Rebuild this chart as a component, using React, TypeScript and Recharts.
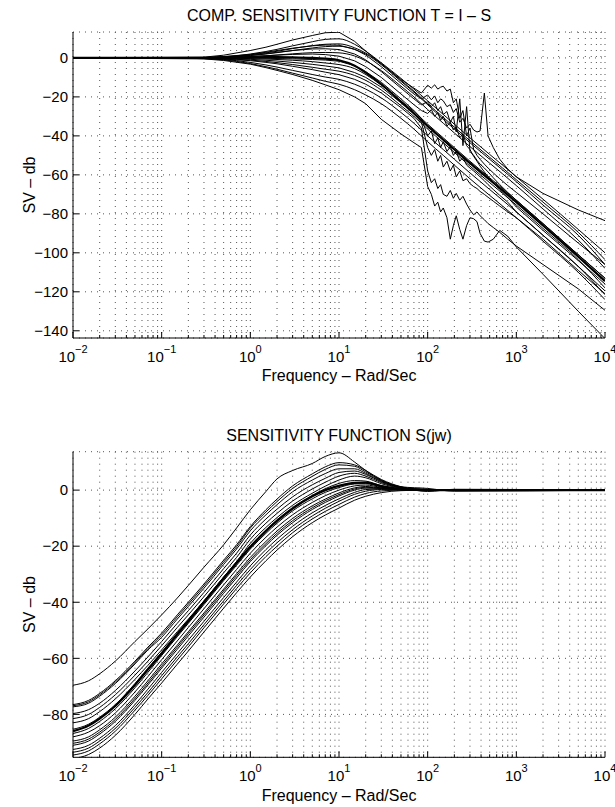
import React from 'react';
import { LineChart, Line, XAxis, YAxis, CartesianGrid } from 'recharts';

const FONT = '"Liberation Sans", Arial, Helvetica, sans-serif';

// ---------- axis ticks / labels ----------
const freqTicks = [
  0.01, 0.02, 0.03, 0.04, 0.05, 0.06, 0.07, 0.08, 0.09,
  0.1, 0.2, 0.3, 0.4, 0.5, 0.6, 0.7, 0.8, 0.9,
  1, 2, 3, 4, 5, 6, 7, 8, 9,
  10, 20, 30, 40, 50, 60, 70, 80, 90,
  100, 200, 300, 400, 500, 600, 700, 800, 900,
  1000, 2000, 3000, 4000, 5000, 6000, 7000, 8000, 9000,
  10000,
];
const freqDomain = [0.01, 10000];
const tYTicks = [-140, -120, -100, -80, -60, -40, -20, 0];
const tYDomain = [-143.7, 13.3];
const sYTicks = [-80, -60, -40, -20, 0];
const sYDomain = [-95.3, 13.7];

const titleT = 'COMP. SENSITIVITY FUNCTION T = I \u2013 S';
const titleS = 'SENSITIVITY FUNCTION S(jw)';
const xLabel = 'Frequency \u2013 Rad/Sec';
const yLabel = 'SV \u2013 db';

// ---------- T = I - S : smooth curves ----------
const freqT = [0.01, 0.1, 0.2, 0.3, 0.5, 0.7, 1, 1.5, 2, 3, 5, 7, 10, 15, 20, 30, 50, 70, 100, 150, 200, 300, 500, 700, 1000, 2000, 5000, 10000];
const tS1 = [0, 0, 0.05, 0.2, 0.6, 1.1, 2, 3.3, 4.4, 6.2, 8.3, 9.5, 9.8, 7, 3.5, -2.5, -10.5, -16, -22, -29, -34, -41, -49.5, -55, -61, -72.5, -88, -100];
const tS2 = [0, 0, 0.05, 0.15, 0.5, 0.9, 1.6, 2.6, 3.4, 4.8, 6.3, 7, 7.2, 5.2, 2.5, -3, -11.5, -17, -23.5, -30.5, -35.5, -42.5, -51, -56.5, -62.5, -74, -89.5, -103.5];
const tS3 = [0, 0, 0.03, 0.1, 0.35, 0.7, 1.2, 2, 2.7, 3.8, 5.1, 5.8, 6, 4.3, 2, -3.5, -12, -17.5, -24, -31.5, -36.5, -43.5, -52, -57.5, -63.5, -75.5, -91, -106];
const tS4 = [0, 0, 0, 0.05, 0.2, 0.4, 0.7, 1.1, 1.5, 2.1, 2.7, 2.8, 2.6, 1, -1.5, -6.5, -14.5, -20, -26.5, -33.5, -38.5, -45.5, -54, -59.5, -65.5, -77.5, -93.5, -108];
const tS5 = [0, 0, 0, 0.05, 0.1, 0.2, 0.3, 0.4, 0.4, 0.3, 0, -0.4, -1.2, -4, -7.5, -13.5, -22.5, -28.5, -35, -42, -47, -54, -62.5, -68, -74, -86, -102, -114.5];
const tS6 = [0, 0, 0, -0.05, -0.1, -0.2, -0.35, -0.6, -0.8, -1.2, -1.9, -2.6, -3.4, -5.5, -8.5, -14, -22, -27.5, -34, -41, -46, -53, -61.5, -67, -73, -85, -101, -113];
const tS7 = [0, 0, -0.05, -0.15, -0.4, -0.7, -1.1, -1.8, -2.4, -3.4, -4.8, -5.8, -6.8, -9, -11.5, -16.5, -24.5, -30, -36.5, -43.5, -48.5, -55.5, -64, -69.5, -75.5, -87.5, -103.5, -118];
const tS8 = [0, 0, -0.1, -0.3, -0.8, -1.4, -2.3, -3.6, -4.7, -6.4, -8.5, -9.8, -11, -13.5, -16, -20.5, -28, -33.5, -40, -47, -52, -59, -67.5, -73, -79, -91, -107, -121.5];
const tS9 = [0, 0, -0.2, -0.4, -1, -1.8, -2.9, -4.5, -5.8, -7.8, -10.3, -12, -13.5, -16.3, -19, -23.5, -31, -36.5, -43, -50, -55, -62, -70.5, -76, -82, -94, -110, -124];

// ---------- T = I - S : jagged curves ----------
const freqW = [0.01, 0.3, 0.5, 1, 1.5, 2, 3, 5, 7, 10, 15, 20, 30, 50, 70, 85, 100, 110, 120, 130, 140, 150, 165, 180, 195, 210, 230, 250, 275, 300, 330, 360, 390, 436, 480, 550, 650, 800, 1000, 2000, 5000, 10000];
const tW0 = [0, 0.4, 1.4, 3.8, 5.5, 7, 9.2, 11.5, 12.9, 13.2, 8.5, 3.5, -3, -11, -15.5, -18, -14, -15.5, -13.8, -16, -15, -14.5, -17, -16, -23, -21, -31, -27, -40, -36, -47, -50, -52, -54.5, -56.5, -59, -62, -65.5, -69, -80, -95, -106];
const tW1 = [0, 0.2, 0.7, 1.8, 2.9, 3.8, 5, 6.2, 6.6, 6.5, 4.5, 1.5, -4.5, -13, -18.5, -21, -19, -21.5, -19.5, -23, -21, -22, -25, -24, -28, -26, -33, -31, -36, -34, -37, -38, -37.5, -18, -40, -46, -52, -57, -61, -69.5, -78, -83.5];
const tW2 = [0, 0.1, 0.5, 1.3, 2.2, 2.9, 3.8, 4.6, 4.7, 4.3, 2, -1, -7, -15.5, -21, -24, -22.5, -25, -23, -27, -25, -29, -27.5, -33, -30, -38, -21, -45, -25, -48, -50, -52.5, -54.5, -56.5, -58.5, -61.5, -65, -69, -73, -85, -101, -113];
const tW3 = [0, 0.1, 0.3, 0.7, 1.1, 1.4, 1.8, 2, 1.7, 0.9, -1.5, -4.5, -10, -18.5, -24, -27, -28.5, -26.5, -30, -28, -32, -30, -35, -33, -37, -35.5, -41, -39, -45, -47, -50.5, -53, -55.5, -58.5, -61, -64, -67.5, -71.5, -76.5, -88.5, -104, -116];
const tW4 = [0, 0, 0, -0.1, -0.2, -0.3, -0.5, -0.8, -1.1, -1.7, -4, -7, -12.5, -21, -27, -31, -40, -37.5, -44, -41, -46, -43, -48, -45.5, -50, -48, -53, -51, -55, -56.5, -58, -59.5, -61, -63, -65, -67.5, -70.5, -74, -79, -91, -107, -119.5];
const tW5 = [0, -0.1, -0.3, -0.7, -1.2, -1.6, -2.3, -3.3, -4.1, -5.1, -7.5, -10, -15, -23, -28.5, -33, -46, -50, -47, -53, -50, -56, -53, -58, -55, -61, -58, -63, -62, -64.5, -66, -67, -68.5, -70, -71.5, -73.5, -76, -79, -82, -93, -109, -121];
const tW6 = [0, -0.2, -0.6, -1.4, -2.3, -3, -4.3, -6, -7.3, -8.6, -11, -13.5, -18, -25.5, -31, -36, -58, -64, -62, -67, -65, -70, -71, -68, -72, -69.5, -73, -71, -75, -78, -80.5, -79, -81, -83, -85, -87, -89.5, -93, -96.5, -106, -118.5, -129.5];
const tW7 = [0, -0.5, -1.3, -3.2, -5, -6.4, -8.5, -11.5, -13.8, -16.3, -20, -23.5, -31.5, -39, -43.5, -46, -66, -70, -76, -74, -79, -77, -82, -93, -86, -81, -88, -93, -86, -82, -82.5, -84, -90, -94, -94.5, -93, -88.5, -91.5, -97, -111, -130, -144];

// ---------- S(jw) curves ----------
const freqS = [0.01, 0.015, 0.02, 0.03, 0.05, 0.07, 0.1, 0.15, 0.2, 0.3, 0.5, 0.7, 1, 1.5, 2, 3, 5, 7, 10, 15, 20, 30, 50, 100, 200, 10000];
const s00 = [-69.6, -68, -65.5, -61, -54, -49.5, -44.5, -38.5, -34, -27.5, -19.5, -13.5, -7, -0.5, 4, 7, 9.5, 12, 13.3, 10, 7, 3.5, 1.2, 0.6, -0.4, 0];
const s01 = [-76.5, -75, -72.5, -68, -61, -56, -51, -44.5, -40, -33.5, -25, -19.5, -13, -7, -3.2, 1.5, 5.8, 8.3, 9.8, 9, 7, 3.8, 1.2, -0.5, 0.3, 0];
const s02 = [-76.9, -75.5, -73, -68.5, -61.5, -56.5, -51.7, -45.2, -40.7, -34.2, -25.7, -20.2, -13.5, -7.8, -4.1, 0.6, 4.9, 7.4, 9, 8.5, 6.5, 3.5, 1.1, 0.2, 0, 0];
const s03 = [-77.3, -76, -73.5, -69, -62, -57, -52.5, -46, -41.5, -35, -26.5, -21, -14.5, -8.8, -5.2, -0.6, 3.6, 5.9, 7.6, 7.6, 6, 3.2, 1, 0.2, 0, 0];
const s04 = [-79.7, -78.3, -76, -71.5, -64.5, -59.5, -54, -47.5, -43, -36.5, -28, -22.5, -16, -10.3, -6.8, -2.4, 1.9, 4.2, 6.3, 6.8, 5.6, 3, 0.9, 0.2, 0, 0];
const s05 = [-81.5, -80, -77.5, -73, -66, -61, -55.5, -49, -44.5, -38, -29.5, -24, -17.5, -11.8, -8.3, -3.9, 0.4, 2.8, 5, 6, 5, 2.7, 0.8, 0.1, 0, 0];
const s06 = [-83, -81.5, -79, -74.5, -67.5, -62.5, -57, -50.5, -46, -39.5, -31, -25.5, -19, -13.3, -9.8, -5.4, -1.1, 1.4, 3.6, 5, 4.4, 2.3, 0.7, 0.1, 0, 0];
const s07 = [-85.3, -83.5, -81, -76.5, -69, -63.5, -57.8, -51, -46.3, -39.5, -31, -25.5, -19.8, -14.2, -10.6, -6.2, -1.9, 0.5, 2.4, 3.4, 3.2, 1.6, 0.4, 0, 0, 0];
const s08 = [-86, -84, -81.5, -77, -69.5, -64, -58.3, -51.5, -46.8, -40, -31.5, -26, -20.3, -14.6, -11, -6.6, -2.2, 0, 1.5, 2.6, 2.7, 1.4, 0.4, 0, 0, 0];
const s09 = [-86.8, -85, -82.5, -78, -70.5, -65, -59, -52.3, -47.5, -40.8, -32.3, -26.8, -21, -15.4, -11.8, -7.4, -3.1, -0.8, 0.9, 2.2, 2.3, 1.2, 0.3, 0, 0, 0];
const s10 = [-88, -86.3, -84, -79.5, -72, -66.5, -60.5, -53.8, -49, -42.3, -33.8, -28.3, -22.5, -16.8, -13.2, -8.8, -4.4, -2, 0, 1.5, 1.8, 1, 0.3, 0, 0, 0];
const s11 = [-89.5, -88, -85.5, -81, -73.5, -68, -62, -55.3, -50.5, -43.8, -35.3, -29.8, -24, -18.3, -14.6, -10.1, -5.6, -3.2, -1, 0.8, 1.3, 0.8, 0.2, 0, 0, 0];
const s12 = [-90.3, -88.8, -86.3, -81.8, -74.3, -68.8, -62.8, -56, -51.2, -44.5, -36, -30.5, -24.8, -19.1, -15.4, -10.9, -6.3, -3.8, -1.6, 0.4, 1, 0.7, 0.2, 0, 0, 0];
const s13 = [-91, -89.5, -87, -82.5, -75, -69.5, -63.5, -56.8, -52, -45.3, -36.8, -31.3, -25.5, -19.8, -16.1, -11.6, -6.9, -4.4, -2.1, 0, 0.7, 0.6, 0.2, 0, 0, 0];
const s14 = [-92.5, -91, -88.5, -84, -76.5, -71, -65, -58.3, -53.5, -46.8, -38.3, -32.8, -27, -21.2, -17.5, -12.9, -8.1, -5.5, -3.1, -0.8, 0.2, 0.4, 0.1, 0, 0, 0];
const s15 = [-93.5, -92, -89.5, -85, -77.5, -72.2, -66.2, -59.5, -54.8, -48, -39.5, -34, -28.3, -22.5, -18.8, -14.1, -9.2, -6.5, -4, -1.5, -0.4, 0.2, 0.1, 0, 0, 0];
const s16 = [-94.5, -93, -90.5, -86, -78.5, -73.2, -67.3, -60.6, -55.9, -49.1, -40.6, -35.1, -29.5, -23.7, -20, -15.2, -10.3, -7.6, -5.1, -2.5, -1.2, -0.3, 0, 0, 0, 0];
const s17 = [-95.8, -94.3, -92, -87.5, -80, -74.5, -68.8, -62.1, -57.4, -50.6, -42.1, -36.6, -31, -25.2, -21.4, -16.6, -11.6, -8.9, -6.4, -3.6, -2.2, -0.9, -0.2, 0, 0, 0];

type Curve = { id: string; pts: { f: number; v: number }[]; type: 'linear' | 'monotone'; w: number };
const toPts = (fs: number[], vs: number[]) => fs.map((f, i) => ({ f, v: vs[i] }));

const tCurves: Curve[] = [
  ...[tS1, tS2, tS3, tS4, tS6, tS7, tS8, tS9].map((vs, i) => ({ id: 'ts' + i, pts: toPts(freqT, vs), type: 'monotone' as const, w: 1 })),
  { id: 'tthick', pts: toPts(freqT, tS5), type: 'monotone', w: 2.2 },
  ...[tW0, tW1, tW2, tW3, tW4, tW5, tW6, tW7].map((vs, i) => ({ id: 'tw' + i, pts: toPts(freqW, vs), type: 'linear' as const, w: 1 })),
];

const sCurves: Curve[] = [s00, s01, s02, s03, s04, s05, s06, s07, s08, s09, s10, s11, s12, s13, s14, s15, s16, s17].map((vs, i) => ({
  id: 's' + i,
  pts: toPts(freqS, vs),
  type: 'monotone',
  w: i === 8 ? 2.2 : 1,
}));

// ---------- tick renderers ----------
const isDecade = (v: number) => {
  const l = Math.log10(v);
  return Math.abs(l - Math.round(l)) < 1e-6;
};
const fmtExp = (v: number) => {
  const e = Math.round(Math.log10(v));
  return e < 0 ? '\u2212' + Math.abs(e) : String(e);
};
const fmtNum = (v: number) => (v < 0 ? '\u2212' + Math.abs(v) : String(v));

function BottomTick(props: any) {
  const { x, y, payload } = props;
  const v = payload.value;
  const major = isDecade(v);
  return (
    <g>
      <line x1={x} x2={x} y1={y} y2={y - (major ? 6 : 3)} stroke="#000" strokeWidth={1} />
      {major ? (
        <text x={x} y={y + 24} textAnchor="middle" fontFamily={FONT} fontSize={15} fill="#000">
          <tspan>10</tspan>
          <tspan dy={-9} fontSize={11}>{fmtExp(v)}</tspan>
        </text>
      ) : null}
    </g>
  );
}
function TopTick(props: any) {
  const { x, y, payload } = props;
  const major = isDecade(payload.value);
  return <line x1={x} x2={x} y1={y} y2={y + (major ? 6 : 3)} stroke="#000" strokeWidth={1} />;
}
function LeftTick(props: any) {
  const { x, y, payload } = props;
  return (
    <g>
      <line x1={x} x2={x + 6} y1={y} y2={y} stroke="#000" strokeWidth={1} />
      <text x={x - 5} y={y} dy="0.35em" textAnchor="end" fontFamily={FONT} fontSize={15} fill="#000">
        {fmtNum(payload.value)}
      </text>
    </g>
  );
}
function RightTick(props: any) {
  const { x, y } = props;
  return <line x1={x} x2={x - 6} y1={y} y2={y} stroke="#000" strokeWidth={1} />;
}

function Panel(props: { curves: Curve[]; yDomain: number[]; yTicks: number[]; height: number; margin: any }) {
  const { curves, yDomain, yTicks, height, margin } = props;
  return (
    <LineChart width={615} height={height} margin={margin}>
      <CartesianGrid stroke="#555" strokeDasharray="1 5" xAxisId={0} yAxisId={0} />
      <XAxis
        xAxisId={0}
        dataKey="f"
        type="number"
        scale="log"
        domain={freqDomain}
        allowDataOverflow
        ticks={freqTicks}
        interval={0}
        tickSize={0}
        tickMargin={0}
        tickLine={false}
        tick={<BottomTick />}
        axisLine={{ stroke: '#000', strokeWidth: 1 }}
        height={40}
      />
      <XAxis
        xAxisId="top"
        orientation="top"
        dataKey="f"
        type="number"
        scale="log"
        domain={freqDomain}
        allowDataOverflow
        ticks={freqTicks}
        interval={0}
        tickSize={0}
        tickMargin={0}
        tickLine={false}
        tick={<TopTick />}
        axisLine={{ stroke: '#000', strokeWidth: 1 }}
        height={0}
      />
      <YAxis
        yAxisId={0}
        type="number"
        domain={yDomain}
        allowDataOverflow
        ticks={yTicks}
        interval={0}
        tickSize={0}
        tickMargin={0}
        tickLine={false}
        tick={<LeftTick />}
        axisLine={{ stroke: '#000', strokeWidth: 1 }}
        width={60}
      />
      <YAxis
        yAxisId="right"
        orientation="right"
        type="number"
        domain={yDomain}
        allowDataOverflow
        ticks={yTicks}
        interval={0}
        tickSize={0}
        tickMargin={0}
        tickLine={false}
        tick={<RightTick />}
        axisLine={{ stroke: '#000', strokeWidth: 1 }}
        width={0}
      />
      {curves.map((c) => (
        <Line
          key={c.id}
          name={c.id}
          xAxisId={0}
          yAxisId={0}
          data={c.pts}
          dataKey="v"
          type={c.type}
          dot={false}
          activeDot={false}
          stroke="#000"
          strokeWidth={c.w}
          isAnimationActive={false}
        />
      ))}
    </LineChart>
  );
}

export default function App() {
  return (
    <div style={{ position: 'absolute', left: 0, top: 0, width: 615, height: 807, background: '#fff' }}>
      <div style={{ position: 'absolute', left: 0, top: 0 }}>
        <Panel curves={tCurves} yDomain={tYDomain} yTicks={tYTicks} height={400} margin={{ top: 32, right: 10, bottom: 22, left: 13 }} />
      </div>
      <div style={{ position: 'absolute', left: 0, top: 420 }}>
        <Panel curves={sCurves} yDomain={sYDomain} yTicks={sYTicks} height={387} margin={{ top: 31.7, right: 10, bottom: 9.7, left: 13 }} />
      </div>
      <svg width={615} height={807} style={{ position: 'absolute', left: 0, top: 0, pointerEvents: 'none' }}>
        <g fontFamily={FONT} fill="#000">
          <text x={339} y={21} textAnchor="middle" fontSize={16}>{titleT}</text>
          <text x={339} y={381} textAnchor="middle" fontSize={16}>{xLabel}</text>
          <text transform="translate(29,185) rotate(-90)" textAnchor="middle" dy="0.35em" fontSize={16}>{yLabel}</text>
          <text x={339} y={441} textAnchor="middle" fontSize={16}>{titleS}</text>
          <text x={339} y={800.5} textAnchor="middle" fontSize={16}>{xLabel}</text>
          <text transform="translate(29,604.5) rotate(-90)" textAnchor="middle" dy="0.35em" fontSize={16}>{yLabel}</text>
        </g>
      </svg>
    </div>
  );
}
